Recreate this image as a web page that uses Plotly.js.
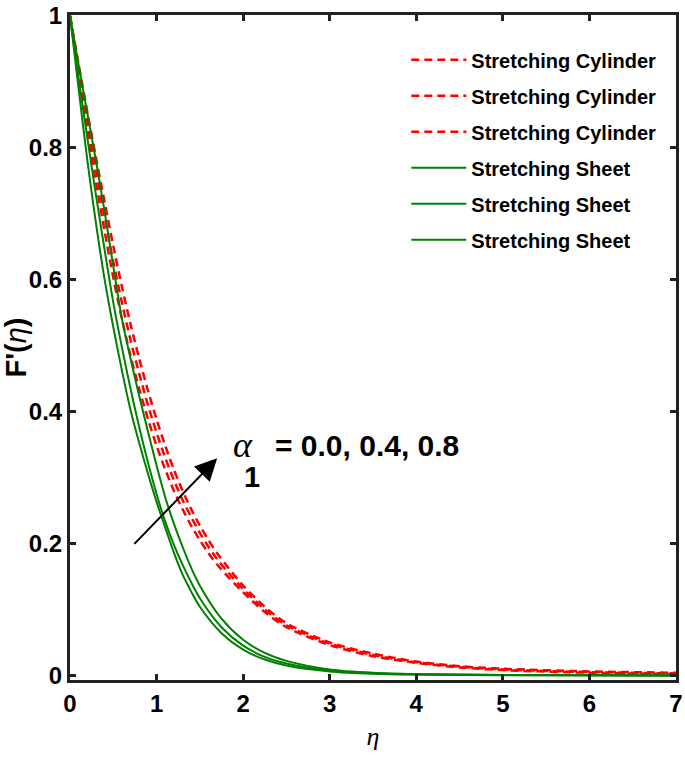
<!DOCTYPE html>
<html>
<head>
<meta charset="utf-8">
<script src="https://cdn.plot.ly/plotly-3.0.1.min.js"></script>
<style>html,body{margin:0;padding:0;background:#fff;}#chart{width:685px;height:768px;}</style>
</head>
<body>
<div id="chart"></div>
<script>
// ---- Data (eta vs F'(eta)) ----
// Stretching Sheet, alpha1 = 0.0, 0.4, 0.8
var etaSheet = [0, 0.1, 0.2, 0.3, 0.4, 0.5, 0.6, 0.7, 0.8, 0.9, 1.0, 1.1, 1.2, 1.3, 1.4, 1.5, 1.75, 2.0, 2.25, 2.5, 3.0, 3.5, 4.0, 5.0, 6.0, 7.0];
var sheetA0 = [1, 0.889, 0.781, 0.685, 0.600, 0.528, 0.462, 0.402, 0.352, 0.306, 0.263, 0.224, 0.186, 0.153, 0.127, 0.104, 0.064, 0.039, 0.024, 0.015, 0.006, 0.0025, 0.0012, 0.0003, 0.0001, 0];
var sheetA4 = [1, 0.905, 0.815, 0.728, 0.645, 0.565, 0.497, 0.434, 0.376, 0.323, 0.275, 0.233, 0.198, 0.168, 0.141, 0.117, 0.073, 0.045, 0.028, 0.018, 0.0075, 0.0032, 0.0015, 0.0005, 0.0001, 0];
var sheetA8 = [1, 0.925, 0.852, 0.780, 0.703, 0.620, 0.540, 0.480, 0.423, 0.370, 0.318, 0.270, 0.230, 0.195, 0.163, 0.136, 0.086, 0.054, 0.034, 0.022, 0.009, 0.004, 0.002, 0.0007, 0.0002, 0];

// Stretching Cylinder, alpha1 = 0.0, 0.4, 0.8
var etaCyl = [0, 0.1, 0.2, 0.3, 0.4, 0.5, 0.6, 0.7, 0.8, 0.9, 1.0, 1.1, 1.2, 1.3, 1.4, 1.5, 1.6, 1.7, 1.8, 2.0, 2.25, 2.5, 3.0, 3.5, 4.0, 4.5, 5.0, 6.0, 7.0];
var cylA0 = [1, 0.910, 0.826, 0.747, 0.673, 0.603, 0.540, 0.484, 0.434, 0.389, 0.348, 0.312, 0.280, 0.252, 0.227, 0.205, 0.185, 0.168, 0.153, 0.126, 0.096, 0.073, 0.046, 0.029, 0.019, 0.012, 0.008, 0.004, 0.002];
var cylA4 = [1, 0.918, 0.840, 0.766, 0.695, 0.627, 0.565, 0.508, 0.457, 0.410, 0.368, 0.330, 0.296, 0.266, 0.240, 0.216, 0.195, 0.176, 0.160, 0.131, 0.100, 0.076, 0.048, 0.031, 0.020, 0.013, 0.009, 0.005, 0.003];
var cylA8 = [1, 0.926, 0.854, 0.785, 0.717, 0.651, 0.589, 0.532, 0.480, 0.432, 0.388, 0.348, 0.312, 0.280, 0.252, 0.227, 0.205, 0.185, 0.168, 0.136, 0.104, 0.079, 0.050, 0.033, 0.021, 0.014, 0.010, 0.006, 0.004];

var xTicks = [0, 1, 2, 3, 4, 5, 6, 7];
var yTicks = [0, 0.2, 0.4, 0.6, 0.8, 1];
var yTickText = ['0', '0.2', '0.4', '0.6', '0.8', '1'];
var cylName = 'Stretching Cylinder';
var sheetName = 'Stretching Sheet';
var alphaLabel = '= 0.0, 0.4, 0.8';

var FONT = '"Liberation Sans", Arial, sans-serif';
var SERIF = '"Liberation Serif", "DejaVu Serif", "Times New Roman", serif';

function cyl(y, g) {
  return {x: etaCyl, y: y, type: 'scatter', mode: 'lines', name: cylName, legendgroup: g,
          line: {color: '#ff0000', width: 2.5, dash: '8px,5px', shape: 'spline', smoothing: 0.8}};
}
function sheet(y, g) {
  return {x: etaSheet, y: y, type: 'scatter', mode: 'lines', name: sheetName, legendgroup: g,
          line: {color: '#008000', width: 2, shape: 'spline', smoothing: 0.8}};
}
var data = [cyl(cylA0, 'c0'), cyl(cylA4, 'c4'), cyl(cylA8, 'c8'),
            sheet(sheetA0, 's0'), sheet(sheetA4, 's4'), sheet(sheetA8, 's8')];

var axisCommon = {
  showline: true, linecolor: '#222', linewidth: 3, mirror: 'allticks',
  ticks: 'inside', ticklen: 6, tickwidth: 3, tickcolor: '#222',
  showgrid: false, zeroline: false, ticklabeloverflow: 'allow',
  tickfont: {family: FONT, size: 24, color: '#000', weight: 'bold'}
};

var layout = {
  width: 685, height: 768,
  margin: {l: 70, r: 9, t: 15, b: 88},
  paper_bgcolor: '#fff', plot_bgcolor: '#fff',
  showlegend: true,
  legend: {x: 0.555, y: 0.962, xanchor: 'left', yanchor: 'top',
           bgcolor: 'rgba(255,255,255,0)', borderwidth: 0,
           font: {family: FONT, size: 20, color: '#000', weight: 'bold'},
           itemwidth: 55, tracegroupgap: 7},
  xaxis: Object.assign({}, axisCommon, {
    range: [0, 7], tickvals: xTicks, ticktext: xTicks.map(String),
    title: {text: '<i>η</i>', font: {family: SERIF, size: 26, color: '#000'}, standoff: 12}
  }),
  yaxis: Object.assign({}, axisCommon, {
    range: [-0.007, 1.001], tickvals: yTicks, ticktext: yTickText,
    title: {text: "<b>F'(</b><i>η</i><b>)</b>", font: {family: FONT, size: 29, color: '#000'}, standoff: 0}
  }),
  annotations: [
    {x: 1.70, y: 0.329, ax: 0.727, ay: 0.197, xref: 'x', yref: 'y', axref: 'x', ayref: 'y',
     text: '', showarrow: true, arrowhead: 2, arrowsize: 2.2, arrowwidth: 2, arrowcolor: '#000'},
    {x: 1.86, y: 0.349, xref: 'x', yref: 'y', xanchor: 'left', yanchor: 'middle', showarrow: false,
     text: '<i>α</i>', font: {family: SERIF, size: 36, color: '#000'}},
    {x: 1.99, y: 0.301, xref: 'x', yref: 'y', xanchor: 'left', yanchor: 'middle', showarrow: false,
     text: '<b>1</b>', font: {family: FONT, size: 29, color: '#000'}},
    {x: 2.34, y: 0.349, xref: 'x', yref: 'y', xanchor: 'left', yanchor: 'middle', showarrow: false,
     text: '<b>' + alphaLabel + '</b>', font: {family: FONT, size: 30, color: '#000'}}
  ]
};

Plotly.newPlot('chart', data, layout, {staticPlot: true, displayModeBar: false});
</script>
</body>
</html>
